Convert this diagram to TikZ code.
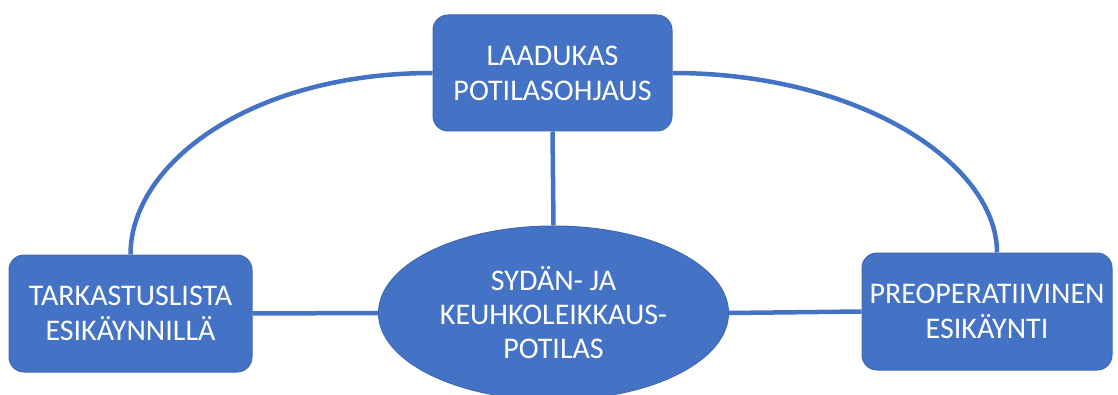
\documentclass[tikz,border=0pt]{standalone}
\usepackage{fontspec}
\setmainfont{Carlito}
\usetikzlibrary{shapes.geometric}
\definecolor{ofblue}{HTML}{4472C4}
\definecolor{ofedge}{HTML}{3F69B5}
\begin{document}
\begin{tikzpicture}[x=1pt,y=1pt,
  boxnode/.style={draw=ofedge, line width=1pt, fill=ofblue, rounded corners=15pt,
    text=white, align=center, inner sep=0pt,
    font=\fontsize{30}{35}\selectfont},
  ellnode/.style={ellipse, draw=ofedge, line width=1pt, fill=ofblue, text=white,
    align=center, inner sep=0pt, font=\fontsize{30}{34}\selectfont},
  link/.style={draw=ofblue, line width=4.5pt}]
\useasboundingbox (0,0) rectangle (1118,394);
\fill[white] (0,0) rectangle (1118,394);
\node[boxnode, minimum width=239pt, minimum height=116pt] (top) at (552.5,321) {LAADUKAS\\POTILASOHJAUS};
\node[boxnode, minimum width=243pt, minimum height=117pt] (left) at (130.5,80.5) {TARKASTUSLISTA\\ESIKÄYNNILLÄ};
\node[boxnode, minimum width=250pt, minimum height=117pt] (right) at (987,82.5) {PREOPERATIIVINEN\\ESIKÄYNTI};
\node[ellnode, minimum width=350pt, minimum height=174pt] (ell) at (553.5,81) {SYDÄN- JA\\KEUHKOLEIKKAUS-\\POTILAS};
\draw[link] (left.east) -- (ell.west);
\draw[link] (ell.east) -- (right.west);
\draw[link] (top.south) -- (ell.north);
\draw[link] (left.north) .. controls (130.5,230) and (250,321) .. (top.west);
\draw[link] ([xshift=10pt]right.north) .. controls (997,230) and (860,321) .. (top.east);
\end{tikzpicture}
\end{document}
